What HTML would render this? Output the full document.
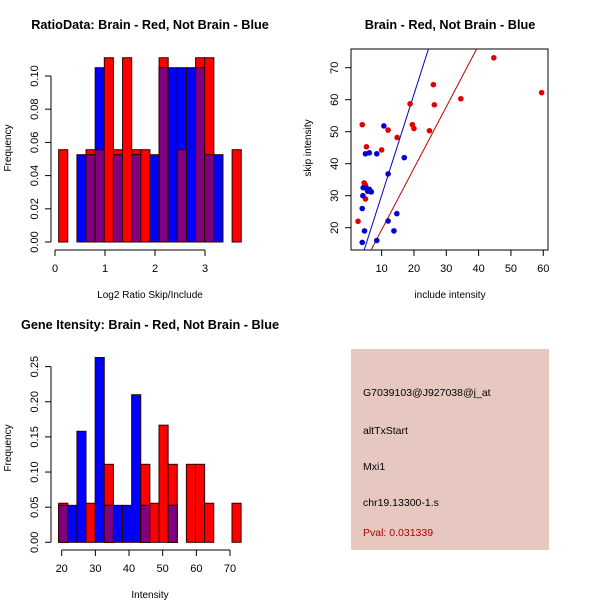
<!DOCTYPE html>
<html><head><meta charset="utf-8"><style>
body{margin:0;background:#fff}
svg text{font-family:"Liberation Sans",sans-serif}
</style></head><body>
<svg id="c" width="600" height="600" xmlns="http://www.w3.org/2000/svg">
<rect width="600" height="600" fill="#fff"/>
<text x="150" y="29" font-size="12.7" font-weight="bold" text-anchor="middle">RatioData: Brain - Red, Not Brain - Blue</text>
<text x="450" y="29" font-size="12.7" font-weight="bold" text-anchor="middle">Brain - Red, Not Brain - Blue</text>
<text x="150" y="329" font-size="12.7" font-weight="bold" text-anchor="middle">Gene Itensity: Brain - Red, Not Brain - Blue</text>
<text x="150" y="298" font-size="10" text-anchor="middle">Log2 Ratio Skip/Include</text>
<text x="450" y="298" font-size="10" text-anchor="middle">include intensity</text>
<text x="150" y="598" font-size="10" text-anchor="middle">Intensity</text>
<text transform="translate(11,148) rotate(-90)" font-size="10" text-anchor="middle">Frequency</text>
<text transform="translate(311,148) rotate(-90)" font-size="10" text-anchor="middle">skip intensity</text>
<text transform="translate(11,448) rotate(-90)" font-size="10" text-anchor="middle">Frequency</text>
<g>
<rect x="351" y="349" width="198" height="201" fill="#e6c8c0"/>
<text x="363" y="396" font-size="10.5">G7039103@J927038@j_at</text>
<text x="363" y="434" font-size="10.5">altTxStart</text>
<text x="363" y="470" font-size="10.5">Mxi1</text>
<text x="363" y="506" font-size="10.5">chr19.13300-1.s</text>
<text x="363" y="536" font-size="10.5" fill="#b00000">Pval: 0.031339</text>
</g>
</svg>
<script>
// Ratio histogram data
const ratioEdgeStart = 0.073, ratioBinW = 0.1826;
const ratioRed = [0.0556,0,0,0.0556,0.0556,0.111,0.0556,0.111,0.0556,0.0556,0,0.111,0,0.0556,0,0.111,0.111,0,0,0.0556];
const ratioBlue = [0,0,0.0526,0.0526,0.105,0,0.0526,0,0.0526,0,0.0526,0.105,0.105,0.105,0.105,0.105,0.0526,0.0526,0,0];
const ratioXTicks = [0,1,2,3];
const ratioYTicks = [0,0.02,0.04,0.06,0.08,0.10];
// Intensity histogram data
const intEdgeStart = 19.1, intBinW = 2.71;
const intRed = [0.0556,0,0,0.0556,0,0.111,0,0,0,0.111,0.0556,0.1667,0.111,0,0.111,0.111,0.0556,0,0,0.0556];
const intBlue = [0.0526,0.0526,0.158,0,0.263,0.0526,0.0526,0.0526,0.21,0.0526,0,0,0.0526,0,0,0,0,0,0,0];
const intXTicks = [20,30,40,50,60,70];
const intYTicks = [0,0.05,0.10,0.15,0.20,0.25];
// Scatter data
const redX = [2.7,4,4.6,5,5,5.3,10,12,14.8,18.8,19.5,20,24.8,26,26.3,34.5,44.7,59.5];
const redY = [22,52.2,34,33.3,29,45.3,44.3,50.5,48.2,58.7,52.2,51,50.3,64.7,58.4,60.3,73.1,62.2];
const blueX = [4,4,4.2,4.3,4.7,5,5.3,5.7,6.2,6.2,6.8,8.5,8.5,10.7,12,12,13.8,14.7,17];
const blueY = [26,15.4,30,32.5,19,43.1,32.3,31.4,43.4,32,31.2,43.1,16,51.8,36.8,22.1,19,24.4,41.9];
const blueFit = [-1.5,3.16];
const redFit = [0.1,1.923];
const scXTicks = [10,20,30,40,50,60];
const scYTicks = [20,30,40,50,60,70];

const NS="http://www.w3.org/2000/svg", svg=document.getElementById('c');
function mk(t,a,p){const e=document.createElementNS(NS,t);for(const k in a)e.setAttribute(k,a[k]);(p||svg).appendChild(e);return e;}

function hist(red,blue,e0,bw,sx,sy,base,name){
  const g=mk('g',{});
  
  
  for(let i=0;i<red.length;i++){
    const x0=sx(e0+i*bw), x1=sx(e0+(i+1)*bw);
    const r=red[i], b=blue[i], m=Math.min(r,b);
    const parts=[];
    if(r>0)parts.push([r,'#ff0000']);
    if(b>0)parts.push([b,'#0000ff']);
    if(m>0)parts.push([m,'#800080']);
    parts.sort((a,c)=>c[0]-a[0]);
    parts.forEach(p=>{
      const el=mk('rect',{x:x0,y:sy(p[0]),width:x1-x0,height:base-sy(p[0]),fill:p[1],stroke:'#300000','stroke-width':1},g);
      
      
    });
  }
}
function xaxis(ticks,sx,y,name){
  const g=mk('g',{});
  
  
  mk('line',{x1:sx(ticks[0]),x2:sx(ticks[ticks.length-1]),y1:y,y2:y,stroke:'#000'},g);
  ticks.forEach(t=>{mk('line',{x1:sx(t),x2:sx(t),y1:y,y2:y+6,stroke:'#000'},g);
    const tx=mk('text',{x:sx(t),y:y+22,'font-size':11,'text-anchor':'middle'},g);tx.textContent=t;});
}
function yaxis(ticks,sy,x,name,fmt){
  const g=mk('g',{});
  
  
  mk('line',{x1:x,x2:x,y1:sy(ticks[0]),y2:sy(ticks[ticks.length-1]),stroke:'#000'},g);
  ticks.forEach(t=>{mk('line',{x1:x,x2:x-6,y1:sy(t),y2:sy(t),stroke:'#000'},g);
    const tx=mk('text',{transform:`translate(${x-13},${sy(t)}) rotate(-90)`,'font-size':11,'text-anchor':'middle'},g);tx.textContent=fmt(t);});
}
// Plot 1
{const sx=v=>55+v*50, sy=v=>242-v*1660;
 hist(ratioRed,ratioBlue,ratioEdgeStart,ratioBinW,sx,sy,242,'ratio');
 xaxis(ratioXTicks,sx,250,'ratio-x-axis'); yaxis(ratioYTicks,sy,51,'ratio-y-axis',t=>t.toFixed(2));}
// Plot 3
{const sx=v=>61.7+(v-20)*3.366, sy=v=>542.3-v*702.7;
 hist(intRed,intBlue,intEdgeStart,intBinW,sx,sy,542.3,'intensity');
 xaxis(intXTicks,sx,550,'intensity-x-axis'); yaxis(intYTicks,sy,51,'intensity-y-axis',t=>t.toFixed(2));}
// Plot 2
{const sx=v=>349.3+v*3.233, sy=v=>227.7-(v-20)*3.2;
 const box=mk('rect',{x:351,y:49,width:197,height:201,fill:'none',stroke:'#000'});
 
 
 const cp=mk('clipPath',{id:'cl'});mk('rect',{x:351,y:49,width:197,height:201},cp);
 [[blueFit,'#0000c0','blue-fit-line'],[redFit,'#c00000','red-fit-line']].forEach(f=>{
   const l=mk('line',{x1:sx(0),y1:sy(f[0][0]),x2:sx(60),y2:sy(f[0][0]+60*f[0][1]),stroke:f[1],'clip-path':'url(#cl)'});
   
   
 });
 redX.forEach((x,i)=>{const c=mk('circle',{cx:sx(x),cy:sy(redY[i]),r:2.8,fill:'#e00000'});
   
   });
 blueX.forEach((x,i)=>{const c=mk('circle',{cx:sx(x),cy:sy(blueY[i]),r:2.8,fill:'#0000d0'});
   
   });
 const g=mk('g',{});
 scXTicks.forEach(t=>{mk('line',{x1:sx(t),x2:sx(t),y1:250,y2:256,stroke:'#000'},g);
   const tx=mk('text',{x:sx(t),y:272,'font-size':11,'text-anchor':'middle'},g);tx.textContent=t;});
 scYTicks.forEach(t=>{mk('line',{x1:351,x2:345,y1:sy(t),y2:sy(t),stroke:'#000'},g);
   const tx=mk('text',{transform:`translate(${338},${sy(t)}) rotate(-90)`,'font-size':11,'text-anchor':'middle'},g);tx.textContent=t;});
 
 }
</script>
</body></html>
